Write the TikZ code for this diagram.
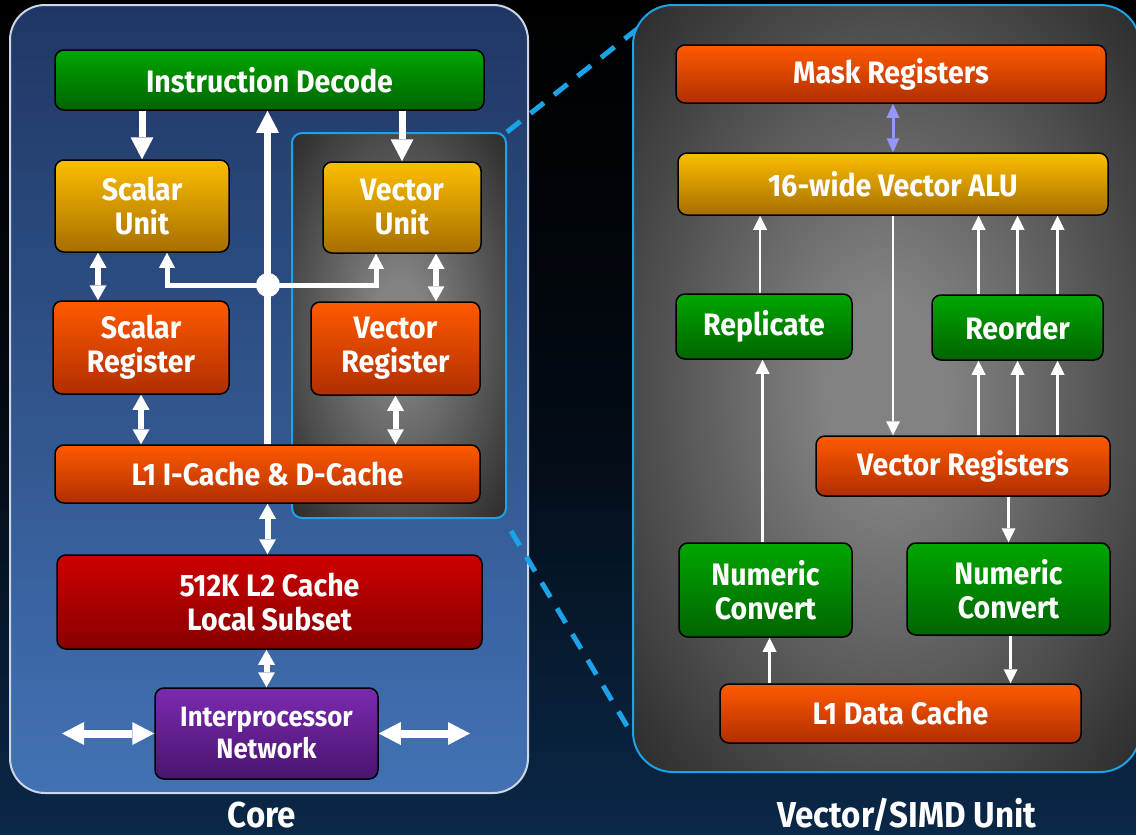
\documentclass[tikz,border=0pt]{standalone}
\usepackage{fontspec}
\setmainfont{Fira Sans}[FakeStretch=0.92]
\usetikzlibrary{arrows.meta}

\definecolor{navy}{RGB}{10,40,72}
\definecolor{coretop}{RGB}{31,55,100}
\definecolor{corebot}{RGB}{66,114,180}
\definecolor{coreline}{RGB}{205,214,230}
\definecolor{zoomblue}{RGB}{26,163,232}
\definecolor{glowmid}{RGB}{130,130,130}
\definecolor{gtop}{RGB}{0,166,0}
\definecolor{gbot}{RGB}{0,100,0}
\definecolor{ytop}{RGB}{252,190,0}
\definecolor{ybot}{RGB}{166,110,0}
\definecolor{otop}{RGB}{255,90,0}
\definecolor{obot}{RGB}{176,46,0}
\definecolor{rtop}{RGB}{206,0,0}
\definecolor{rbot}{RGB}{134,0,0}
\definecolor{ptop}{RGB}{124,42,176}
\definecolor{pbot}{RGB}{72,20,110}
\definecolor{lavender}{RGB}{150,150,255}

\pgfdeclareradialshading{glow}{\pgfpoint{0bp}{0bp}}{color(0bp)=(glowmid); color(6bp)=(glowmid); color(50bp)=(black)}

\newcommand\boxfont{\bfseries\fontsize{31}{34}\selectfont}
\newcommand\netfont{\bfseries\fontsize{28}{32}\selectfont}
\newcommand\titlefont{\bfseries\fontsize{36}{40}\selectfont}

\tikzset{
  box/.style={draw=black, line width=1.5pt, rounded corners=9pt, text=white,
    font=\boxfont, align=center, inner sep=0pt},
  greenbox/.style={box, top color=gtop, bottom color=gbot},
  yellowbox/.style={box, top color=ytop, bottom color=ybot},
  orangebox/.style={box, top color=otop, bottom color=obot},
  redbox/.style={box, top color=rtop, bottom color=rbot},
  purplebox/.style={box, top color=ptop, bottom color=pbot, font=\netfont},
  bus/.style={white, line width=7pt, -{Triangle[length=22pt,width=23pt,line width=0pt]}},
  feed/.style={white, line width=5pt, -{Triangle[length=15pt,width=16pt,line width=0pt]}},
  link/.style={white, line width=6pt, >={Triangle[length=15pt,width=17pt,line width=0pt]}, <->},
  netlink/.style={white, line width=8pt, >={Triangle[length=22pt,width=23pt,line width=0pt]}, <->},
  thin/.style={white, line width=2.5pt, -{Triangle[length=14pt,width=14pt,line width=0pt]}},
  zoomline/.style={zoomblue, line width=5pt, dash pattern=on 17pt off 13pt},
  caption/.style={text=white, font=\titlefont, anchor=base},
}

\begin{document}
\begin{tikzpicture}[x=1pt, y=-1pt]

  % backdrop
  \shade[top color=black, bottom color=navy, middle color=black!75!navy] (0,0) rectangle (1136,835);
  \clip (0,0) rectangle (1136,835);

  % the core and its vector corner
  \node[draw=coreline, line width=2pt, rounded corners=35pt, top color=coretop, bottom color=corebot,
    minimum width=518pt, minimum height=788pt] (core) at (269,399) {};
  \node[draw=zoomblue, line width=2pt, rounded corners=10pt, shade, shading=glow,
    minimum width=214pt, minimum height=385pt] (vzone) at (399,325.5) {};

  % zoom lines out to the vector unit
  \coordinate (zoomtop) at (641,26);
  \coordinate (zoombot) at (633,736);
  \draw[zoomline] (vzone.north east) -- (zoomtop);
  \draw[zoomline] ([xshift=4pt,yshift=-12pt]vzone.south east) -- (zoombot);

  \node[draw=zoomblue, line width=2pt, rounded corners=40pt, shade, shading=glow,
    minimum width=507pt, minimum height=767pt] (simd) at (886.5,388.5) {};

  % core blocks
  \node[greenbox, minimum width=429pt, minimum height=60pt] (idec) at (269.5,80) {Instruction Decode};
  \node[yellowbox, minimum width=174pt, minimum height=92pt] (sunit) at (142,206) {Scalar\\Unit};
  \node[yellowbox, minimum width=158pt, minimum height=91pt] (vunit) at (402,207.5) {Vector\\Unit};
  \node[orangebox, minimum width=176pt, minimum height=93pt] (sreg) at (141,347.5) {Scalar\\Register};
  \node[orangebox, minimum width=169pt, minimum height=93pt] (vreg) at (395.5,348.5) {Vector\\Register};
  \node[orangebox, minimum width=425pt, minimum height=58pt] (l1) at (267.5,474) {L1 I-Cache \& D-Cache};
  \node[redbox, minimum width=425pt, minimum height=94pt] (l2) at (269.5,602) {512K L2 Cache\\Local Subset};
  \node[purplebox, minimum width=223pt, minimum height=91pt] (inet) at (266.5,733.5) {Interprocessor\\Network};

  % core connections
  \draw[bus] (idec.south -| sunit.north) -- (sunit.north);
  \draw[bus] (idec.south -| vunit.north) -- (vunit.north);
  \draw[bus] (l1.north) -- (l1.north |- idec.south);
  \node[circle, fill=white, minimum size=24pt, inner sep=0pt] (hub) at (268,285) {};
  \draw[feed] (hub.center) -| ([xshift=25pt]sunit.south);
  \draw[feed] (hub.center) -| ([xshift=-26pt]vunit.south);
  \draw[link] ([xshift=-44pt]sunit.south) -- ([xshift=-44pt]sunit.south |- sreg.north);
  \draw[link] ([xshift=34pt]vunit.south) -- ([xshift=34pt]vunit.south |- vreg.north);
  \draw[link] (sreg.south) -- (sreg.south |- l1.north);
  \draw[link] (vreg.south) -- (vreg.south |- l1.north);
  \draw[link] (l1.south) -- (l1.south |- l2.north);
  \draw[link] (l2.south -| inet.north) -- (inet.north);
  \coordinate (netwest) at (62,733.5);
  \coordinate (neteast) at (470,733.5);
  \draw[netlink] (netwest) -- (inet.west);
  \draw[netlink] (inet.east) -- (neteast);

  % vector unit blocks
  \node[orangebox, minimum width=430pt, minimum height=58pt] (mask) at (891,74) {Mask Registers};
  \node[yellowbox, minimum width=430pt, minimum height=62pt] (alu) at (893,184) {16-wide Vector ALU};
  \node[greenbox, minimum width=176pt, minimum height=65pt] (repl) at (764,326.5) {Replicate};
  \node[greenbox, minimum width=171pt, minimum height=65pt] (reord) at (1017.5,327.5) {Reorder};
  \node[orangebox, minimum width=294pt, minimum height=60pt] (vregs) at (963,466) {Vector Registers};
  \node[greenbox, minimum width=173pt, minimum height=94pt] (nconvl) at (765.5,590) {Numeric\\Convert};
  \node[greenbox, minimum width=203pt, minimum height=92pt] (nconvr) at (1008.5,589) {Numeric\\Convert};
  \node[orangebox, minimum width=361pt, minimum height=59pt] (l1d) at (900.5,713.5) {L1 Data Cache};

  % vector unit data paths
  \draw[lavender, line width=3pt, >={Triangle[length=14pt,width=13pt,line width=0pt]}, <->]
    (mask.south -| alu.south) -- (alu.north);
  \draw[thin] ([xshift=-4pt]repl.north) -- ([xshift=-4pt]repl.north |- alu.south);
  \draw[thin] ([xshift=-3pt]nconvl.north) -- ([xshift=-3pt]nconvl.north |- repl.south);
  \draw[thin] (alu.south) -- (alu.south |- vregs.north);
  \foreach \dx in {-39,0,40}{
    \draw[thin] ([xshift=\dx pt]reord.south |- vregs.north) -- ([xshift=\dx pt]reord.south);
    \draw[thin] ([xshift=\dx pt]reord.north) -- ([xshift=\dx pt]reord.north |- alu.south);
  }
  \draw[thin] (vregs.south -| nconvr.north) -- (nconvr.north);
  \draw[thin] ([xshift=2pt]nconvr.south) -- ([xshift=2pt]nconvr.south |- l1d.north);
  \draw[thin] ([xshift=4pt]nconvl.south |- l1d.north) -- ([xshift=4pt]nconvl.south);

  % captions
  \node[caption] (corecap) at (262,827) {Core};
  \node[caption] (simdcap) at (907,827) {Vector/SIMD Unit};

\end{tikzpicture}
\end{document}
